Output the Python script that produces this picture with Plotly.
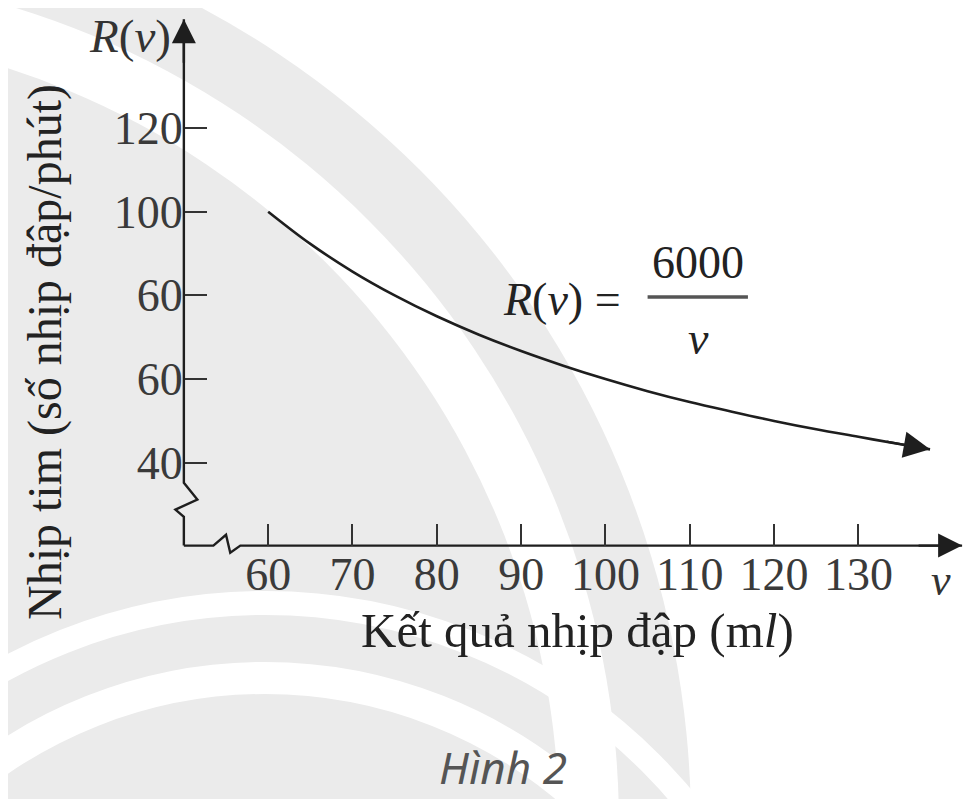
import plotly.graph_objects as go

# ---------------- data ----------------
v_values = [60, 65, 70, 75, 80, 85, 90, 95, 100, 105, 110, 115, 120, 125, 130, 135, 138.5]
r_values = [100, 92.3, 85.7, 80, 75, 70.6, 66.7, 63.2, 60, 57.1, 54.5, 52.2, 50, 48, 46.2, 44.4, 43.2]

x_tick_vals = [60, 70, 80, 90, 100, 110, 120, 130]
x_tick_text = ["60", "70", "80", "90", "100", "110", "120", "130"]
y_tick_vals = [40, 60, 80, 100, 120]
y_tick_text = ["40", "60", "60", "100", "120"]   # as printed in the figure

# axis corner, ends and break (zigzag) offsets, in data units
corner_v, corner_r = 50, 20.2
x_axis_v = [corner_v, 53.5, 55.0, 55.5, 56.7, 142.3]
x_axis_r = [corner_r, corner_r, 22.8, 18.5, corner_r, corner_r]
y_axis_v = [corner_v, corner_v, 49.0, 51.6, corner_v, corner_v]
y_axis_r = [corner_r, 27.1, 28.8, 31.2, 35.2, 146.0]

# ---------------- layout geometry ----------------
W, H = 975, 799
OFF = 8  # page body margin of the browser
ML, MR, MT, MB = 167 - OFF, 7 + OFF, 15 - OFF, 240 + OFF
X_RANGE = [48, 143]
Y_RANGE = [17, 147]
PW, PH = W - ML - MR, H - MT - MB

SERIF = "Liberation Serif"
INK = "#1e1e1e"
GRAY_BG = "#ebebeb"


def ppx(x):
    return (x - OFF - ML) / PW


def ppy(y):
    return (MT + PH - (y - OFF)) / PH


fig = go.Figure()

# curve
fig.add_trace(go.Scatter(
    x=v_values, y=r_values, mode="lines",
    line=dict(color=INK, width=2.6, shape="spline"),
    hoverinfo="skip", showlegend=False))

# axes with breaks
for xs, ys in ((x_axis_v, x_axis_r), (y_axis_v, y_axis_r)):
    fig.add_trace(go.Scatter(
        x=xs, y=ys, mode="lines", line=dict(color=INK, width=2.4),
        hoverinfo="skip", showlegend=False))

# ---------------- watermark (background decoration) ----------------
shapes = []


def circle(cx, cy, r, fill=None, line_color=None, line_width=0):
    shapes.append(dict(
        type="circle", xref="paper", yref="paper", layer="below",
        x0=ppx(cx - r), x1=ppx(cx + r), y0=ppy(cy + r), y1=ppy(cy - r),
        fillcolor=fill if fill else "rgba(0,0,0,0)",
        line=dict(color=line_color if line_color else "rgba(0,0,0,0)", width=line_width)))


circle(-236, 825, 927, fill=GRAY_BG)
circle(-236, 825, 855, fill="white")
circle(-236, 825, 795, fill=GRAY_BG)
circle(265, 1148, 545, line_color="white", line_width=24)
circle(265, 1148, 470, line_color="white", line_width=32)

# fraction bar of the formula
shapes.append(dict(type="line", xref="x", yref="y", x0=105.0, x1=116.9, y0=79.6, y1=79.6,
                   line=dict(color="#555", width=3.5)))


def txt(x, y, text, size=46, color="#222", ref="paper", family=SERIF, angle=0):
    if ref == "paper":
        x, y = ppx(x), ppy(y)
    return dict(x=x, y=y, xref="paper" if ref == "paper" else "x",
                yref="paper" if ref == "paper" else "y",
                text=text, showarrow=False, textangle=angle,
                xanchor="center", yanchor="middle",
                font=dict(family=family, size=size, color=color))


def arrow_head(x, y, ax, ay, size=2.4):
    return dict(x=x, y=y, xref="x", yref="y", ax=ax, ay=ay, axref="pixel", ayref="pixel",
                text="", showarrow=True, arrowhead=2, arrowsize=size, arrowwidth=2.4,
                arrowcolor=INK, standoff=0)


annotations = [
    txt(130, 36, "<i>R</i>(<i>v</i>)", size=47, color="#333"),
    txt(94.9, 78.9, "<i>R</i>(<i>v</i>) =", ref="data"),
    txt(111.0, 87.8, "6000", ref="data"),
    txt(111.0, 69.6, "<i>v</i>", ref="data"),
    txt(941, 580, "<i>v</i>", size=44, color="#333"),
    txt(577, 630, "Kết quả nhịp đập (m<i>l</i>)", size=49),
    txt(45, 352, "Nhịp tim (số nhịp đập/phút)", size=48, angle=-90),
    txt(503, 767, "<i>Hình 2</i>", size=44, color="#555",
        family="Noto Sans, Open Sans, sans-serif"),
    arrow_head(y_axis_v[-1], y_axis_r[-1], 0, 45, 2.0),
    arrow_head(x_axis_v[-1], x_axis_r[-1], -45, 0, 2.0),
    arrow_head(v_values[-1], r_values[-1], -45, -8, 2.2),
]

tickfont = dict(family=SERIF, size=46, color="#3a3a3a")

fig.update_layout(
    width=W, height=H,
    margin=dict(l=ML, r=MR, t=MT, b=MB, pad=0),
    paper_bgcolor="white", plot_bgcolor="rgba(0,0,0,0)",
    showlegend=False,
    shapes=shapes, annotations=annotations,
    xaxis=dict(range=X_RANGE, anchor="free", position=(corner_r - Y_RANGE[0]) / (Y_RANGE[1] - Y_RANGE[0]),
               showline=False, showgrid=False, zeroline=False,
               tickmode="array", tickvals=x_tick_vals, ticktext=x_tick_text,
               ticks="inside", ticklen=22, tickwidth=2, tickcolor="#333",
               tickfont=tickfont, ticklabelstandoff=-3, fixedrange=True),
    yaxis=dict(range=Y_RANGE, anchor="free", position=(corner_v - X_RANGE[0]) / (X_RANGE[1] - X_RANGE[0]),
               showline=False, showgrid=False, zeroline=False,
               tickmode="array", tickvals=y_tick_vals, ticktext=y_tick_text,
               ticks="inside", ticklen=22, tickwidth=2, tickcolor="#333",
               tickfont=tickfont, ticklabelstandoff=1, fixedrange=True),
)

fig.write_html("out.html")
